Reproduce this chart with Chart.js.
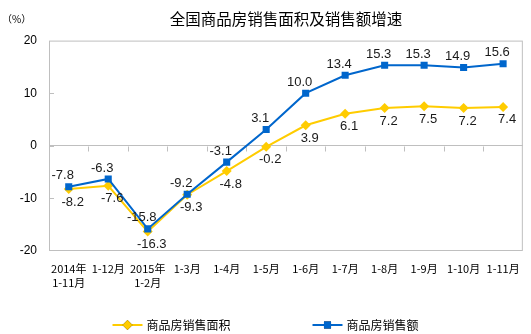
<!DOCTYPE html>
<html>
<head>
<meta charset="utf-8">
<script src="https://cdn.jsdelivr.net/npm/chart.js@4/dist/chart.umd.min.js"></script>
<style>
  html, body { margin: 0; padding: 0; background: #fff; }
  #wrap { width: 531px; height: 334px; position: relative; }
</style>
</head>
<body>
<div id="wrap"><canvas id="salesChart"></canvas></div>
<script>
// data
const categories = [['2014年', '1-11月'], '1-12月', ['2015年', '1-2月'], '1-3月', '1-4月', '1-5月', '1-6月', '1-7月', '1-8月', '1-9月', '1-10月', '1-11月'];
const areaGrowth = [-8.2, -7.6, -16.3, -9.3, -4.8, -0.2, 3.9, 6.1, 7.2, 7.5, 7.2, 7.4];
const salesGrowth = [-7.8, -6.3, -15.8, -9.2, -3.1, 3.1, 10.0, 13.4, 15.3, 15.3, 14.9, 15.6];
const yTicks = [-20, -10, 0, 10, 20];
const seriesNames = ['商品房销售面积', '商品房销售额'];

const cjk = "'Noto Sans CJK SC', sans-serif";
const latin = "'Liberation Sans', Arial, sans-serif";
const frameColor = '#bfbfbf';

// frame, zero line ticks, value labels, legend and unit
const decorPlugin = {
  id: 'decor',
  beforeDatasetsDraw(chart) {
    const { ctx, chartArea: a, scales: { x, y } } = chart;
    ctx.save();
    ctx.strokeStyle = frameColor;
    ctx.lineWidth = 1;
    ctx.strokeRect(a.left + 0.5, a.top + 0.5, a.width - 1, a.height - 1);
    // small marks on the zero line between categories
    const y0 = Math.round(y.getPixelForValue(0)) + 0.5;
    ctx.beginPath();
    for (let i = 1; i < categories.length; i++) {
      const px = Math.round(x.getPixelForValue(i - 0.5)) + 0.5;
      ctx.moveTo(px, y0);
      ctx.lineTo(px, y0 + 5);
    }
    // inner marks on the value axis
    yTicks.slice(1, -1).forEach(v => {
      const py = Math.round(y.getPixelForValue(v)) + 0.5;
      ctx.moveTo(a.left, py);
      ctx.lineTo(a.left + 5, py);
    });
    ctx.stroke();
    ctx.restore();
  },
  afterDatasetsDraw(chart) {
    const { ctx } = chart;
    ctx.save();
    ctx.font = '13px ' + latin;
    ctx.fillStyle = '#1a1a1a';
    ctx.textAlign = 'center';
    ctx.textBaseline = 'middle';
    chart.data.datasets.forEach((ds, di) => {
      const meta = chart.getDatasetMeta(di);
      const off = ds.labelOffset;
      meta.data.forEach((pt, i) => {
        ctx.fillText(ds.data[i].toFixed(1), pt.x + off[0], pt.y + off[1]);
      });
    });
    ctx.restore();
  },
  afterDraw(chart) {
    const { ctx, width, height } = chart;
    ctx.save();
    // unit
    ctx.font = '10px ' + cjk;
    ctx.fillStyle = '#000';
    ctx.textAlign = 'left';
    ctx.textBaseline = 'middle';
    ctx.fillText('（%）', 2, 19);

    // legend
    ctx.font = '12px ' + cjk;
    const lineLen = 30, gap = 4, itemGap = 82;
    const items = chart.data.datasets.map(ds => ({ ds, w: lineLen + gap + ctx.measureText(ds.label).width }));
    const total = items.reduce((s, it) => s + it.w, 0) + itemGap * (items.length - 1);
    let lx = width / 2 - total / 2;
    const ly = height - 9;
    items.forEach(it => {
      const ds = it.ds;
      ctx.strokeStyle = ds.borderColor;
      ctx.lineWidth = 2;
      ctx.beginPath();
      ctx.moveTo(lx, ly);
      ctx.lineTo(lx + lineLen, ly);
      ctx.stroke();
      Chart.helpers.drawPoint(ctx, {
        pointStyle: ds.pointStyle, radius: ds.pointRadius, borderWidth: 0, rotation: 0
      }, lx + lineLen / 2, ly);
      ctx.fillStyle = ds.borderColor;
      ctx.fill();
      ctx.fillStyle = '#000';
      ctx.fillText(ds.label, lx + lineLen + gap, ly);
      lx += it.w + itemGap;
    });
    ctx.restore();
  }
};

new Chart(document.getElementById('salesChart'), {
  type: 'line',
  data: {
    labels: categories,
    datasets: [
      {
        label: seriesNames[0],
        data: areaGrowth,
        borderColor: '#FFCC00',
        backgroundColor: '#FFCC00',
        borderWidth: 2,
        pointStyle: 'rectRot',
        pointRadius: 5,
        pointBorderWidth: 0,
        tension: 0,
        order: 1,
        labelOffset: [4, 13]
      },
      {
        label: seriesNames[1],
        data: salesGrowth,
        borderColor: '#0066CC',
        backgroundColor: '#0066CC',
        borderWidth: 2,
        pointStyle: 'rect',
        pointRadius: 5,
        pointBorderWidth: 0,
        tension: 0,
        order: 0,
        labelOffset: [-6, -11]
      }
    ]
  },
  options: {
    responsive: true,
    maintainAspectRatio: false,
    animation: false,
    devicePixelRatio: 1,
    layout: { padding: { left: 0, right: 3, top: 0, bottom: 22 } },
    plugins: {
      legend: { display: false },
      tooltip: { enabled: false },
      title: {
        display: true,
        text: '全国商品房销售面积及销售额增速',
        fullSize: false,
        color: '#000',
        font: { family: cjk, size: 15.5, weight: 'normal' },
        padding: { top: 10, bottom: 12 }
      }
    },
    scales: {
      x: {
        type: 'category',
        offset: true,
        grid: { display: false, drawTicks: false },
        border: { display: false },
        ticks: {
          color: '#000',
          font: { family: cjk, size: 11, lineHeight: 1.27 },
          padding: 11,
          maxRotation: 0,
          autoSkip: false
        },
        afterFit(scale) { scale.height = 61; }
      },
      y: {
        min: -20,
        max: 20,
        grid: {
          drawTicks: false,
          color: c => (c.tick && c.tick.value === 0 ? frameColor : 'rgba(0,0,0,0)'),
          lineWidth: 1
        },
        border: { display: false },
        ticks: {
          stepSize: 10,
          color: '#000',
          font: { family: latin, size: 12 },
          padding: 12
        },
        afterBuildTicks(scale) { scale.ticks = yTicks.map(v => ({ value: v })); },
        afterFit(scale) { scale.width = 49; }
      }
    }
  },
  plugins: [decorPlugin]
});
</script>
</body>
</html>
